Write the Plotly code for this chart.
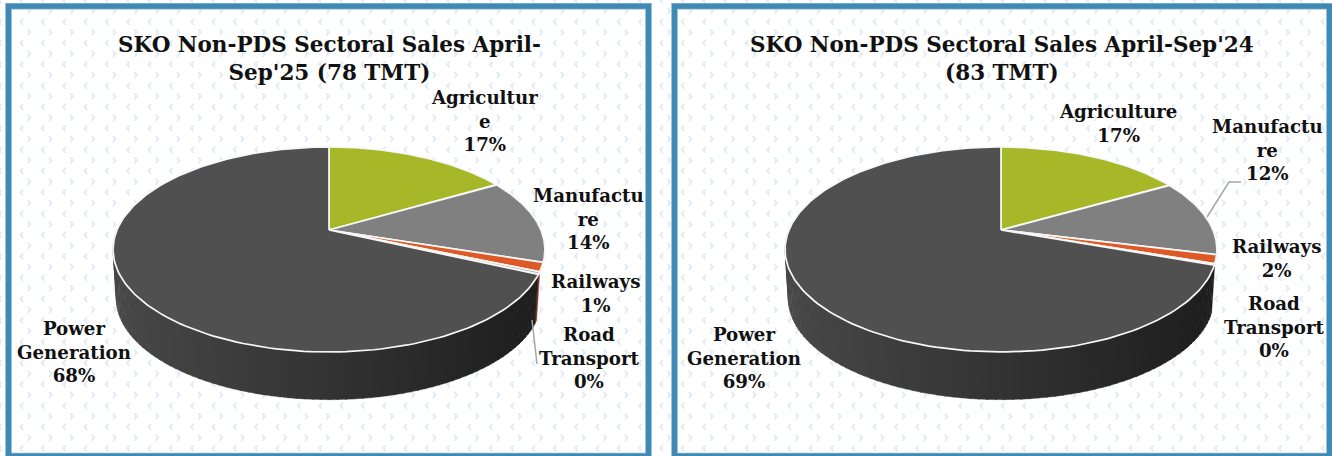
import numpy as np
import plotly.graph_objects as go

categories = ["Agriculture", "Manufacture", "Railways", "Road Transport", "Power Generation"]
share_2025 = [16.6, 13.4, 1.4, 0.4, 68.2]
share_2024 = [16.7, 12.1, 1.4, 0.2, 69.6]
label_2025 = ["17%", "14%", "1%", "0%", "68%"]
label_2024 = ["17%", "12%", "2%", "0%", "69%"]
names_2025 = ["Agricultur<br>e", "Manufactu<br>re", "Railways", "Road<br>Transport", "Power<br>Generation"]
names_2024 = ["Agriculture", "Manufactu<br>re", "Railways", "Road<br>Transport", "Power<br>Generation"]
title_2025 = "SKO Non-PDS Sectoral Sales April-<br>Sep'25 (78 TMT)"
title_2024 = "SKO Non-PDS Sectoral Sales April-Sep'24<br>(83 TMT)"

slice_colors = ["#a6b727", "#808080", "#dd5a27", "#b8b8b8", "#505050"]
label_xy_2025 = [(484, 121), (588, 219), (595, 293), (589, 358), (74, 352)]
label_xy_2024 = [(1118, 123), (1267, 150), (1276, 258), (1274, 327), (744, 358)]

BG = "#e1ecf6"
FONT = "DejaVu Serif"
LABEL_SIZE = 18.2
TITLE_SIZE = 21.5

fig = go.Figure()

# background chevron pattern
gx = np.arange(-1.3, 1340, 21.33)
gy = np.arange(0.4, 470, 21.33)
xx, yy = np.meshgrid(gx, gy)
for dx, dy, ang in [(0, 0, -90), (10.7, 10.7, 90)]:
    fig.add_trace(go.Scatter(
        x=(xx + dx).ravel(), y=(yy + dy).ravel(), mode="markers", hoverinfo="skip",
        marker=dict(symbol="arrow-wide-open", size=4.5, angle=ang, color=BG,
                    line=dict(color=BG, width=1.4))))


def rim(theta, cx, cy, scale=1.0, shift=0.0):
    """Perspective circle: theta in radians clockwise from the top."""
    k, a, b = 0.19, 98.8, 212.0
    u, v = np.sin(theta), np.cos(theta)
    d = 1 + k * v
    return cx + scale * b * u / d, cy - scale * a * v / d + shift


def lerp_gray(t):
    c0, c1 = 0x1d, 0x48
    g = int(round(c0 + (c1 - c0) * t))
    return f"rgb({g},{g},{g})"


def draw_pie(values, cx, cy, road_wall):
    edges = np.concatenate([[0], np.cumsum(values)]) / sum(values) * 2 * np.pi
    # side wall: only the road-transport sliver and the power slice show a wall
    wall_start = edges[3]
    wall_end = min(edges[5], np.radians(278))
    steps = np.linspace(wall_start, wall_end, 90)
    for t0, t1 in zip(steps[:-1], steps[1:]):
        mid = (t0 + t1) / 2
        xa, ya = rim(np.linspace(t0, t1 + 0.005, 4), cx, cy)
        xb, yb = rim(np.linspace(t1 + 0.005, t0, 4), cx, cy, 0.985, 49.5)
        xm, _ = rim(mid, cx, cy)
        if mid < edges[4]:
            col = road_wall
        else:
            col = lerp_gray(np.clip((cx + 215 - xm) / 430, 0, 1))
        fig.add_trace(go.Scatter(
            x=np.concatenate([xa, xb, xa[:1]]), y=np.concatenate([ya, yb, ya[:1]]),
            mode="lines", fill="toself", fillcolor=col, hoverinfo="skip",
            line=dict(color=col, width=0.4)))
    # top face
    for i, col in enumerate(slice_colors):
        th = np.linspace(edges[i], edges[i + 1], 160)
        x, y = rim(th, cx, cy)
        fig.add_trace(go.Scatter(
            x=np.concatenate([[cx], x, [cx]]), y=np.concatenate([[cy], y, [cy]]),
            mode="lines", fill="toself", fillcolor=col, name=categories[i], hoverinfo="name",
            line=dict(color="#f7f7f7", width=1.7)))


draw_pie(share_2025, 329, 230, "#7d3a22")
draw_pie(share_2024, 1001, 230, "#242424")

# leader lines
leader = dict(color="#a6a6a6", width=1.5)
fig.add_trace(go.Scatter(x=[532, 537], y=[320, 364], mode="lines", line=leader, hoverinfo="skip"))
fig.add_trace(go.Scatter(x=[1207, 1229, 1241], y=[217, 182, 182], mode="lines", line=leader, hoverinfo="skip"))

annotations = []
for names, labels, xy in [(names_2025, label_2025, label_xy_2025), (names_2024, label_2024, label_xy_2024)]:
    for n, l, (x, y) in zip(names, labels, xy):
        annotations.append(dict(x=x, y=y, xref="x", yref="y", text=f"<b>{n}<br>{l}</b>", showarrow=False,
                                align="center", xanchor="center", yanchor="middle",
                                font=dict(family=FONT, size=LABEL_SIZE, color="#111111")))
for t, x in [(title_2025, 329), (title_2024, 1002)]:
    annotations.append(dict(x=x, y=58, xref="x", yref="y", text=f"<b>{t}</b>", showarrow=False,
                            align="center", xanchor="center", yanchor="middle",
                            font=dict(family=FONT, size=TITLE_SIZE, color="#111111")))

shapes = []
for x0, x1 in [(8.5, 648.5), (674.5, 1329.5)]:
    for col, w in [("#86b6d4", 6.6), ("#4189b5", 5)]:
        shapes.append(dict(type="rect", xref="x", yref="y", x0=x0, x1=x1, y0=6.3, y1=456, layer="above",
                           line=dict(color=col, width=w), fillcolor="rgba(0,0,0,0)"))

fig.update_layout(
    width=1332, height=456, margin=dict(l=0, r=0, t=0, b=0), showlegend=False,
    paper_bgcolor="white", plot_bgcolor="white",
    xaxis=dict(range=[0, 1332], visible=False, fixedrange=True),
    yaxis=dict(range=[456, 0], visible=False, fixedrange=True),
    annotations=annotations, shapes=shapes,
)
fig.write_html("out.html", config={"displayModeBar": False},
               post_script="document.body.style.margin='0';document.body.style.overflow='hidden';")
